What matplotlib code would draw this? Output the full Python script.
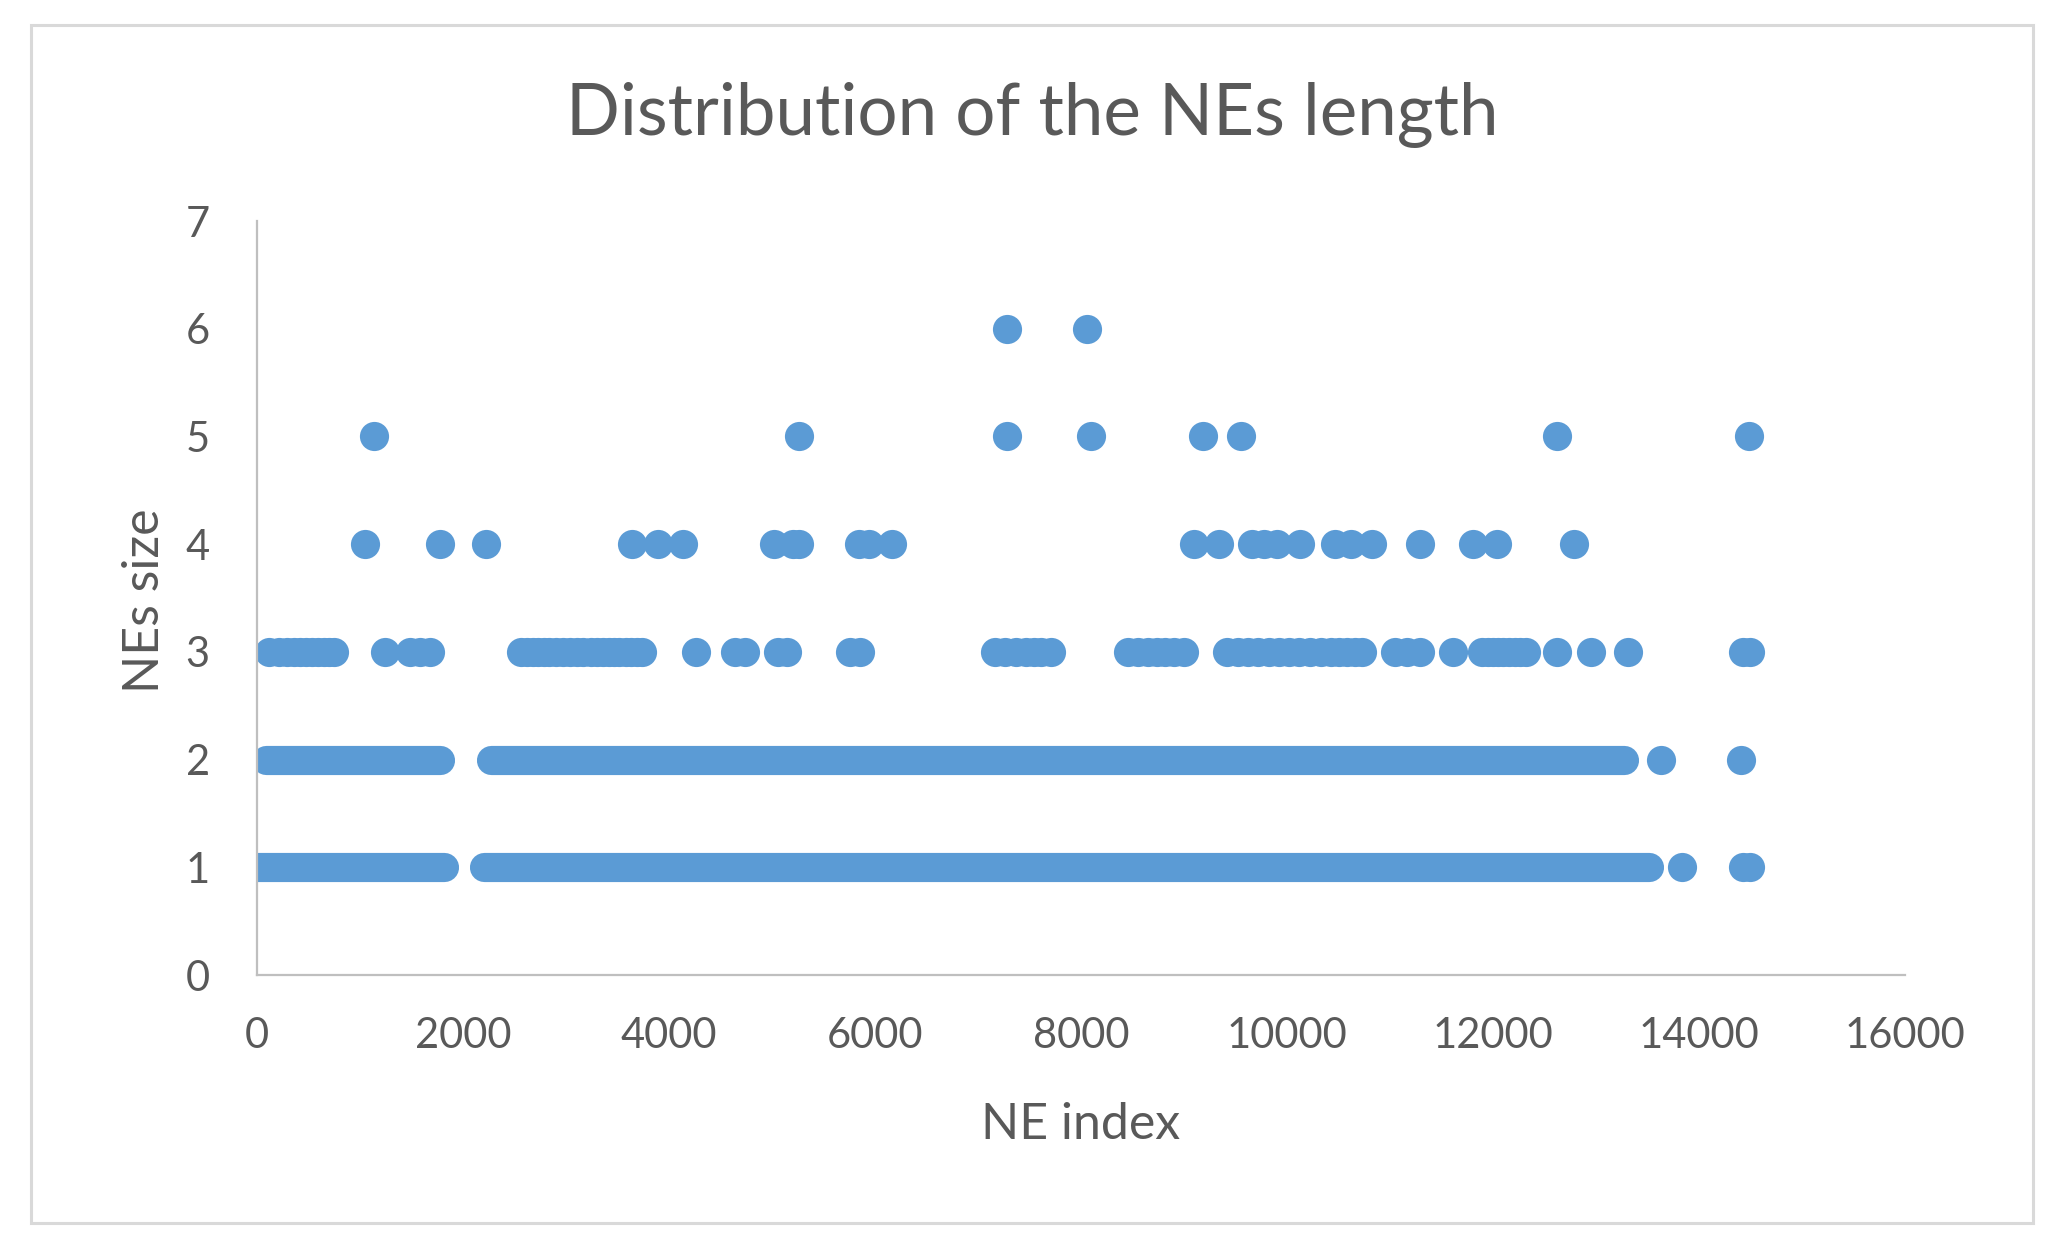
import matplotlib.pyplot as plt
from matplotlib.patches import Rectangle

# NE index values, grouped by NE size
# dense stretches at size 1 and 2 kept as (start, end) index runs
size1_runs = [(0, 1820), (2200, 13515)]
size1_pts = [13836, 14430, 14500]

size2_runs = [(90, 1777), (2275, 13270)]
size2_pts = [13633, 14408]

size3_pts = [118, 210, 291, 360, 420, 480, 530, 590, 650, 700, 748,
             1243, 1485, 1580, 1680,
             2563, 2620, 2680, 2730, 2786, 2840, 2900, 2970, 3044, 3110, 3170,
             3240, 3300, 3360, 3420, 3470, 3520, 3580, 3630, 3690, 3738,
             4262, 4640, 4740, 5060, 5150, 5760, 5854,
             7166, 7260, 7367, 7470, 7540, 7609, 7709,
             8454, 8550, 8655, 8740, 8816, 8900, 8997,
             9420, 9520, 9621, 9720, 9822, 9920, 10024, 10120, 10225, 10330,
             10426, 10510, 10587, 10660, 10728,
             11050, 11170, 11291, 11613, 11890, 11950, 12000, 12050, 12100,
             12160, 12210, 12260, 12316,
             12624, 12949, 13312, 14430, 14500]

size4_pts = [1048, 1777, 2223, 3640, 3889, 4136, 5016, 5200, 5260,
             5843, 5945, 6161, 9097, 9340, 9660, 9780, 9903, 10126,
             10466, 10626, 10825, 11291, 11810, 12040, 12786]

size5_pts = [1140, 5266, 7285, 8094, 9188, 9554, 12626, 14487]
size6_pts = [7283, 8054]

title = "Distribution of the NEs length"
xlabel = "NE index"
ylabel = "NEs size"

blue = "#5B9BD5"
grey_txt = "#595959"
plt.rcParams['font.family'] = ['Lato', 'DejaVu Sans']

fig = plt.figure(figsize=(20.57, 12.44), dpi=100)
ax = fig.add_axes([0.1249, 0.2162, 0.8012, 0.6061])

msize = 21  # points
for runs, yv in [(size1_runs, 1), (size2_runs, 2)]:
    lc = ax.hlines([yv] * len(runs), [r[0] for r in runs], [r[1] for r in runs],
                   colors=blue, linewidth=msize)
    lc.set_capstyle('round')

ax.plot(size1_pts, [1] * len(size1_pts), 'o', color=blue, ms=msize, mew=0)
ax.plot(size2_pts, [2] * len(size2_pts), 'o', color=blue, ms=msize, mew=0)
ax.plot(size3_pts, [3] * len(size3_pts), 'o', color=blue, ms=msize, mew=0)
ax.plot(size4_pts, [4] * len(size4_pts), 'o', color=blue, ms=msize, mew=0)
ax.plot(size5_pts, [5] * len(size5_pts), 'o', color=blue, ms=msize, mew=0)
ax.plot(size6_pts, [6] * len(size6_pts), 'o', color=blue, ms=msize, mew=0)

ax.set_xlim(0, 16000)
ax.set_ylim(0, 7)
ax.set_xticks(range(0, 16001, 2000))
ax.set_yticks(range(0, 8))

for s in ['top', 'right']:
    ax.spines[s].set_visible(False)
for s in ['left', 'bottom']:
    ax.spines[s].set_color('#BFBFBF')
    ax.spines[s].set_linewidth(1.6)

ax.tick_params(axis='x', length=0, pad=30, labelsize=30, labelcolor=grey_txt)
ax.tick_params(axis='y', length=0, pad=34, labelsize=30, labelcolor=grey_txt)

ax.set_xlabel(xlabel, fontsize=36, color=grey_txt, va='baseline')
ax.xaxis.set_label_coords(0.5, -0.2175)
ax.set_ylabel(ylabel, fontsize=36, color=grey_txt, va='baseline')
ax.yaxis.set_label_coords(-0.0595, 0.496)

fig.text(0.502, 1 - 135 / 1244, title, fontsize=51, color=grey_txt,
         ha='center', va='baseline')

# chart area border
fig.patches.append(Rectangle((31 / 2057, 1 - 1223 / 1244), 2002 / 2057, 1198 / 1244,
                             transform=fig.transFigure, fill=False,
                             edgecolor='#D9D9D9', linewidth=2.2))

fig.savefig('out.png', dpi=100)
